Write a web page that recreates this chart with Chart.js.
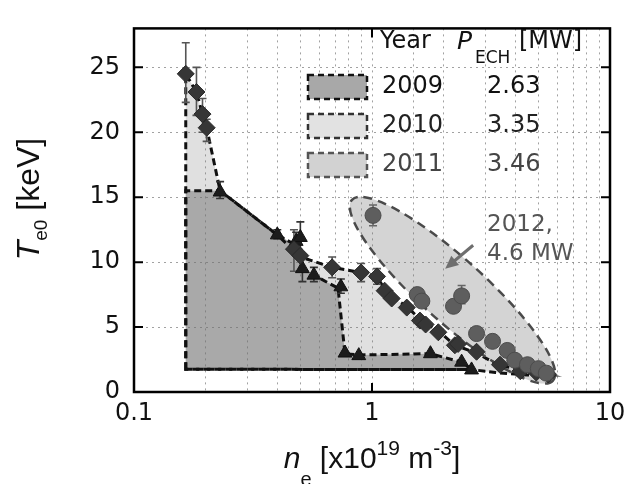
<!DOCTYPE html>
<html>
<head>
<meta charset="utf-8">
<script src="https://cdn.jsdelivr.net/npm/chart.js@4/dist/chart.umd.min.js"></script>
<style>
  html, body { margin: 0; padding: 0; background: #fff; }
</style>
</head>
<body>
<canvas id="myChart" width="641" height="484"></canvas>
<script>
    // tick labels
    const xTickValues = [0.1, 1, 10];
    const yTickValues = [0, 5, 10, 15, 20, 25];

    // diamonds
    const diamondX = [0.165, 0.183, 0.194, 0.202, 0.47, 0.50, 0.68, 0.90, 1.05, 1.13, 1.21, 1.40, 1.59, 1.68, 1.90, 2.23, 2.30, 2.75, 3.45, 4.20, 4.90, 5.50];
    const diamondY = [24.5, 23.1, 21.4, 20.35, 11.0, 10.5, 9.6, 9.2, 8.9, 7.8, 7.2, 6.5, 5.5, 5.2, 4.6, 3.6, 3.7, 3.1, 2.1, 1.6, 1.5, 1.35];
    const diamondLo = [22.3, 21.3, 20.0, 19.3, 9.3, null, 8.8, 8.5, 8.3, null, null, null, null, null, null, null, null, null, null, null, null, null];
    const diamondHi = [26.9, 25.0, 22.6, 21.0, 12.5, null, 10.4, 9.9, 9.5, null, null, null, null, null, null, null, null, null, null, null, null, null];

    // triangles
    const triangleX = [0.23, 0.40, 0.48, 0.50, 0.51, 0.57, 0.74, 0.77, 0.88, 1.76, 2.38, 2.62];
    const triangleY = [15.4, 12.1, 11.6, 11.9, 9.5, 9.0, 8.1, 3.0, 2.8, 2.95, 2.3, 1.7];
    const triangleLo = [14.9, 11.8, 10.9, 10.8, 8.5, 8.5, 7.6, null, null, null, null, null];
    const triangleHi = [16.2, 12.5, 12.3, 13.1, 10.3, 9.6, 8.7, null, null, null, null, null];

    // circles (2012)
    const circleX = [1.01, 1.55, 1.62, 2.20, 2.38, 2.75, 3.21, 3.70, 3.98, 4.50, 5.00, 5.40];
    const circleY = [13.6, 7.5, 7.0, 6.6, 7.4, 4.5, 3.9, 3.2, 2.45, 2.1, 1.8, 1.45];
    const circleLo = [12.8, null, null, null, 6.8, null, null, null, null, null, null, null];
    const circleHi = [14.4, null, null, null, 8.2, null, null, null, null, null, null, null];

    // operating regions
    const region2009X = [0.165, 0.165, 0.23, 0.40, 0.48, 0.51, 0.57, 0.72, 0.77, 0.88, 1.76, 2.38, 2.62];
    const region2009Y = [1.75, 15.5, 15.5, 12.1, 11.3, 9.5, 9.0, 8.0, 2.95, 2.85, 2.95, 2.3, 1.73];
    const region2010X = [0.165, 0.165, 0.183, 0.194, 0.202, 0.23, 0.40, 0.50, 0.68, 0.90, 1.05, 1.13, 1.21, 1.40, 1.59, 1.90, 2.23, 2.75, 3.45, 4.20, 4.90, 5.50, 4.50, 3.30, 2.62];
    const region2010Y = [1.75, 24.5, 23.1, 21.4, 20.35, 15.5, 12.1, 10.4, 9.6, 9.2, 8.9, 7.9, 7.3, 6.6, 5.6, 4.7, 3.6, 3.0, 2.0, 1.8, 1.5, 1.3, 1.3, 1.5, 1.73];

    // 2012 ellipse: tips and minor/major ratio
    const ellipseTipA = [0.824, 14.8];
    const ellipseTipB = [5.76, 0.88];
    const ellipseRatio = 0.235;

    // arrow to the ellipse
    const arrowFrom = [2.66, 11.3];
    const arrowTo = [2.03, 9.5];

    // legend
    const legendYears = ['2009', '2010', '2011'];
    const legendPower = ['2.63', '3.35', '3.46'];
    const legendFill = ['#a8a8a8', '#e2e2e2', '#d2d2d2'];
    const legendEdge = ['#111', '#333', '#555'];
    const legendText = ['#111', '#222', '#444'];

    const SANS = '"DejaVu Sans", sans-serif';
    const ARIAL = '"Liberation Sans", Arial, sans-serif';

    function toPoints(xs, ys) {
        return xs.map((x, i) => ({ x: x, y: ys[i] }));
    }

    function polyPath(c, chart, xs, ys) {
        const sx = chart.scales.x, sy = chart.scales.y;
        c.beginPath();
        xs.forEach((v, i) => {
            const X = sx.getPixelForValue(v), Y = sy.getPixelForValue(ys[i]);
            if (i) c.lineTo(X, Y); else c.moveTo(X, Y);
        });
        c.closePath();
    }

    function ellipsePath(c, chart) {
        const sx = chart.scales.x, sy = chart.scales.y;
        const x1 = sx.getPixelForValue(ellipseTipA[0]), y1 = sy.getPixelForValue(ellipseTipA[1]);
        const x2 = sx.getPixelForValue(ellipseTipB[0]), y2 = sy.getPixelForValue(ellipseTipB[1]);
        const a = Math.hypot(x2 - x1, y2 - y1) / 2;
        c.beginPath();
        c.ellipse((x1 + x2) / 2, (y1 + y2) / 2, a, a * ellipseRatio, Math.atan2(y2 - y1, x2 - x1), 0, Math.PI * 2);
    }

    function errorBars(c, chart, xs, lo, hi, color) {
        const sx = chart.scales.x, sy = chart.scales.y;
        c.save();
        c.strokeStyle = color;
        c.lineWidth = 1.6;
        xs.forEach((v, i) => {
            if (lo[i] == null) return;
            const X = sx.getPixelForValue(v);
            const Y1 = sy.getPixelForValue(lo[i]), Y2 = sy.getPixelForValue(hi[i]);
            c.beginPath();
            c.moveTo(X, Y1); c.lineTo(X, Y2);
            c.moveTo(X - 4, Y1); c.lineTo(X + 4, Y1);
            c.moveTo(X - 4, Y2); c.lineTo(X + 4, Y2);
            c.stroke();
        });
        c.restore();
    }

    function partsWidth(c, parts) {
        let w = 0;
        parts.forEach(p => { c.font = p[1]; w += c.measureText(p[0]).width; });
        return w;
    }

    function drawParts(c, parts, x, y) {
        let cx = x;
        parts.forEach(p => {
            c.font = p[1];
            c.fillText(p[0], cx, y + p[2]);
            cx += c.measureText(p[0]).width;
        });
    }

    const shapesPlugin = {
        id: 'shapes',
        beforeDraw(chart) {
            const c = chart.ctx;
            c.save();
            c.fillStyle = '#e0e0e0';
            polyPath(c, chart, region2010X, region2010Y);
            c.fill();
            c.fillStyle = '#a9a9a9';
            polyPath(c, chart, region2009X, region2009Y);
            c.fill();
            c.fillStyle = '#d4d4d4';
            ellipsePath(c, chart);
            c.fill();
            c.restore();
        },
        beforeDatasetsDraw(chart) {
            const c = chart.ctx;
            c.save();
            c.setLineDash([7, 4]);
            c.lineWidth = 3;
            c.strokeStyle = '#111';
            polyPath(c, chart, region2010X, region2010Y);
            c.stroke();
            polyPath(c, chart, region2009X, region2009Y);
            c.stroke();
            c.setLineDash([9, 6]);
            c.lineWidth = 2.5;
            c.strokeStyle = '#4a4a4a';
            ellipsePath(c, chart);
            c.stroke();

            // legend boxes
            legendYears.forEach((yr, i) => {
                const top = 75 + i * 39;
                c.setLineDash([6, 4]);
                c.lineWidth = 2.5;
                c.fillStyle = legendFill[i];
                c.strokeStyle = legendEdge[i];
                c.fillRect(308, top, 59, 24);
                c.strokeRect(308, top, 59, 24);
            });
            c.restore();

            errorBars(c, chart, diamondX, diamondLo, diamondHi, '#555');
            errorBars(c, chart, triangleX, triangleLo, triangleHi, '#333');
            errorBars(c, chart, circleX, circleLo, circleHi, '#666');
        },
        afterDraw(chart) {
            const c = chart.ctx;
            const area = chart.chartArea;
            const sx = chart.scales.x, sy = chart.scales.y;
            c.save();

            // arrow
            const ax1 = sx.getPixelForValue(arrowFrom[0]), ay1 = sy.getPixelForValue(arrowFrom[1]);
            const ax2 = sx.getPixelForValue(arrowTo[0]), ay2 = sy.getPixelForValue(arrowTo[1]);
            const ang = Math.atan2(ay2 - ay1, ax2 - ax1);
            c.strokeStyle = '#6e6e6e';
            c.fillStyle = '#6e6e6e';
            c.lineWidth = 3;
            c.beginPath();
            c.moveTo(ax1, ay1);
            c.lineTo(ax2 - 8 * Math.cos(ang), ay2 - 8 * Math.sin(ang));
            c.stroke();
            c.beginPath();
            c.moveTo(ax2, ay2);
            c.lineTo(ax2 - 13 * Math.cos(ang) + 6 * Math.sin(ang), ay2 - 13 * Math.sin(ang) - 6 * Math.cos(ang));
            c.lineTo(ax2 - 13 * Math.cos(ang) - 6 * Math.sin(ang), ay2 - 13 * Math.sin(ang) + 6 * Math.cos(ang));
            c.closePath();
            c.fill();

            // frame and inward ticks
            c.strokeStyle = '#000';
            c.lineWidth = 2.5;
            c.strokeRect(area.left, area.top, area.right - area.left, area.bottom - area.top);
            c.lineWidth = 2;
            c.beginPath();
            yTickValues.slice(1).forEach(v => {
                const Y = sy.getPixelForValue(v);
                c.moveTo(area.left, Y); c.lineTo(area.left + 9, Y);
                c.moveTo(area.right, Y); c.lineTo(area.right - 9, Y);
            });
            const X1 = sx.getPixelForValue(1);
            c.moveTo(X1, area.bottom); c.lineTo(X1, area.bottom - 9);
            c.moveTo(X1, area.top); c.lineTo(X1, area.top + 9);
            c.stroke();

            // legend text
            c.textBaseline = 'middle';
            c.textAlign = 'left';
            c.fillStyle = '#111';
            c.font = '24px ' + SANS;
            c.fillText('Year', 380, 42);
            c.font = 'italic 25px ' + SANS;
            c.fillText('P', 457, 42);
            c.font = '17px ' + SANS;
            c.fillText('ECH', 475, 59);
            c.font = '24px ' + SANS;
            c.fillText('[MW]', 519, 42);
            legendYears.forEach((yr, i) => {
                const mid = 87 + i * 39;
                c.fillStyle = legendText[i];
                c.font = '24px ' + SANS;
                c.fillText(yr, 382, mid);
                c.fillText(legendPower[i], 487, mid);
            });

            // 2012 note
            c.fillStyle = '#555';
            c.font = '23px ' + SANS;
            c.fillText('2012,', 487, 225);
            c.fillText('4.6 MW', 487, 254);

            // axis titles
            c.textBaseline = 'alphabetic';
            c.fillStyle = '#111';
            const xParts = [
                ['n', 'italic 30px ' + ARIAL, 0],
                ['e', '20px ' + ARIAL, 18],
                [' [x10', '30px ' + ARIAL, 0],
                ['19', '21px ' + ARIAL, -13],
                [' m', '30px ' + ARIAL, 0],
                ['-3', '21px ' + ARIAL, -13],
                [']', '30px ' + ARIAL, 0]
            ];
            drawParts(c, xParts, 372 - partsWidth(c, xParts) / 2, 468);

            const yParts = [
                ['T', 'italic 32px ' + ARIAL, 0],
                ['e0', '19px ' + ARIAL, 8],
                [' [keV]', '32px ' + ARIAL, 0]
            ];
            c.translate(39, 199);
            c.rotate(-Math.PI / 2);
            drawParts(c, yParts, -partsWidth(c, yParts) / 2, 0);
            c.restore();
        }
    };

    const gridColor = 'rgba(110,110,110,0.65)';

    var ctx = document.getElementById('myChart').getContext('2d');
    var myChart = new Chart(ctx, {
        type: 'scatter',
        data: {
            datasets: [{
                label: '2012',
                data: toPoints(circleX, circleY),
                pointStyle: 'circle',
                pointRadius: 8,
                backgroundColor: '#5e5e5e',
                borderColor: '#4c4c4c',
                borderWidth: 1
            }, {
                label: 'diamonds',
                data: toPoints(diamondX, diamondY),
                pointStyle: 'rectRot',
                pointRadius: 8.5,
                backgroundColor: '#363636',
                borderColor: '#2a2a2a',
                borderWidth: 1
            }, {
                label: 'triangles',
                data: toPoints(triangleX, triangleY),
                pointStyle: 'triangle',
                pointRadius: 8,
                backgroundColor: '#1c1c1c',
                borderColor: '#111',
                borderWidth: 1
            }]
        },
        options: {
            responsive: false,
            animation: false,
            events: [],
            layout: { padding: { top: 8, right: 31, left: 0, bottom: 0 } },
            plugins: {
                legend: { display: false },
                tooltip: { enabled: false }
            },
            scales: {
                x: {
                    type: 'logarithmic',
                    min: 0.1,
                    max: 10,
                    afterFit: scale => { scale.height = 92; },
                    grid: { color: gridColor, lineWidth: 1, drawTicks: false },
                    border: { display: false, dash: [2, 4] },
                    ticks: {
                        autoSkip: false,
                        maxRotation: 0,
                        padding: 7,
                        color: '#111',
                        font: { family: SANS, size: 24 },
                        callback: value => {
                            const hit = xTickValues.find(t => Math.abs(t - value) < 1e-9);
                            return hit === undefined ? '' : String(hit);
                        }
                    }
                },
                y: {
                    min: 0,
                    max: 28,
                    afterFit: scale => { scale.width = 134; },
                    grid: { color: gridColor, lineWidth: 1, drawTicks: false },
                    border: { display: false, dash: [2, 4] },
                    ticks: {
                        stepSize: 5,
                        includeBounds: false,
                        padding: 14,
                        color: '#111',
                        font: { family: SANS, size: 24 },
                        callback: value => yTickValues.includes(value) ? String(value) : ''
                    }
                }
            }
        },
        plugins: [shapesPlugin]
    });
</script>
</body>
</html>
